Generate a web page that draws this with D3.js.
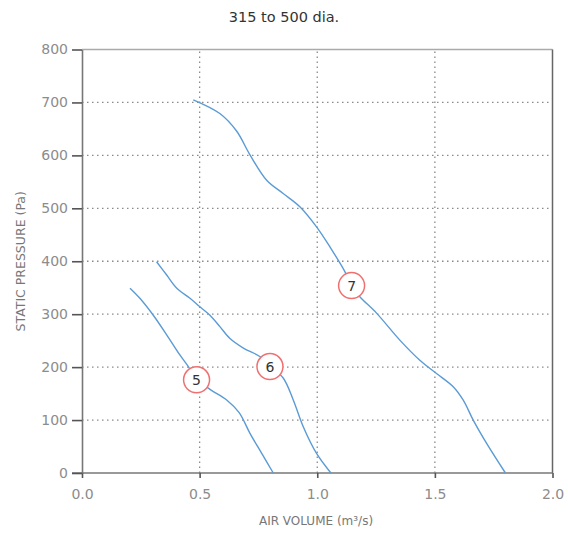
<!DOCTYPE html>
<html><head><meta charset="utf-8">
<script src="https://cdn.jsdelivr.net/npm/d3@7"></script>
<style>body{margin:0;background:#fff}svg{display:block}</style>
</head><body><div id="c"></div>
<script>
const title = "315 to 500 dia.";
const xLabel = "AIR VOLUME (m³/s)";
const yLabel = "STATIC PRESSURE (Pa)";
const xTicks = [0, 0.5, 1.0, 1.5, 2.0];
const yTicks = [0, 100, 200, 300, 400, 500, 600, 700, 800];
const curve5 = [[0.204,349],[0.246,330],[0.303,298],[0.360,261],[0.416,223],[0.452,201],[0.487,178],[0.544,158],[0.615,138],[0.668,114],[0.714,75],[0.764,37],[0.813,0]];
const curve6 = [[0.317,399],[0.360,374],[0.403,349],[0.459,330],[0.501,314],[0.544,298],[0.587,276],[0.629,254],[0.686,236],[0.756,220],[0.799,203],[0.856,179],[0.898,138],[0.941,87],[0.997,37],[1.058,0]];
const curve7 = [[0.473,705],[0.586,679],[0.657,646],[0.714,601],[0.785,553],[0.855,528],[0.926,503],[0.997,465],[1.054,427],[1.118,380],[1.146,353],[1.181,333],[1.252,302],[1.351,251],[1.436,213],[1.507,188],[1.578,163],[1.620,138],[1.663,100],[1.720,56],[1.800,0]];
const seriesNames = ["5","6","7"];
const labelPos = [[0.487,176],[0.799,201],[1.146,354]];

const W=568,H=534;
const m={l:82,r:15.5,t:49.5,b:61};
const svg=d3.select("#c").append("svg").attr("width",W).attr("height",H);
const x=d3.scaleLinear().domain([0,2]).range([m.l,W-m.r]);
const y=d3.scaleLinear().domain([0,800]).range([H-m.b,m.t]);
const font="'DejaVu Sans', sans-serif";

svg.append("text").attr("x",284).attr("y",22).attr("text-anchor","middle")
  .attr("font-family",font).attr("font-size",14.5).attr("fill","#333").text(title);

// grid
const g=svg.append("g");
g.selectAll("line.hy").data(yTicks.filter(d=>d>0&&d<800)).join("line")
  .attr("x1",x(0)).attr("x2",x(2)).attr("y1",d=>y(d)).attr("y2",d=>y(d))
  .attr("stroke","#8a8a8a").attr("stroke-width",1.3).attr("stroke-dasharray","1.5,3.5");
g.selectAll("line.vx").data(xTicks.filter(d=>d>0&&d<2)).join("line")
  .attr("y1",y(0)).attr("y2",y(800)).attr("x1",d=>x(d)).attr("x2",d=>x(d))
  .attr("stroke","#8a8a8a").attr("stroke-width",1.3).attr("stroke-dasharray","1.5,3.5");

// frame
svg.append("line").attr("x1",x(0)).attr("x2",x(2)).attr("y1",y(800)).attr("y2",y(800)).attr("stroke","#aaa").attr("stroke-width",1.5);
svg.append("line").attr("x1",x(2)).attr("x2",x(2)).attr("y1",y(800)).attr("y2",y(0)).attr("stroke","#666").attr("stroke-width",1.5);

// axes
const ax=svg.append("g").attr("transform",`translate(0,${y(0)})`)
  .call(d3.axisBottom(x).tickValues(xTicks).tickFormat(d3.format(".1f")).tickSizeInner(5).tickSizeOuter(0).tickPadding(11));
const ay=svg.append("g").attr("transform",`translate(${x(0)},0)`)
  .call(d3.axisLeft(y).tickValues(yTicks).tickSizeInner(10).tickSizeOuter(0).tickPadding(4));
[ax,ay].forEach(a=>{
  a.select(".domain").attr("stroke","#777").attr("stroke-width",1.6);
  a.selectAll(".tick line").attr("stroke","#555").attr("stroke-width",1.6);
  a.selectAll(".tick text").attr("font-family",font).attr("font-size",14).attr("fill","#8c8c8c");
});
ax.select(".domain").attr("d",`M${x(0)-10},0H${x(2)}`);

svg.append("text").attr("x",316).attr("y",525).attr("text-anchor","middle")
  .attr("font-family",font).attr("font-size",12).attr("fill","#777").text(xLabel);
svg.append("text").attr("transform",`translate(25,${y(400)}) rotate(-90)`).attr("text-anchor","middle")
  .attr("font-family",font).attr("font-size",12.5).attr("fill","#777").text(yLabel);

// curves
const line=d3.line().x(d=>x(d[0])).y(d=>y(d[1])).curve(d3.curveCatmullRom);
svg.selectAll("path.c").data([curve5,curve6,curve7]).join("path")
  .attr("d",line).attr("fill","none").attr("stroke","#5b9bd5").attr("stroke-width",1.4);

const lab=svg.selectAll("g.lab").data(seriesNames).join("g")
  .attr("transform",(d,i)=>`translate(${x(labelPos[i][0])},${y(labelPos[i][1])})`);
lab.append("circle").attr("r",13).attr("fill","#fff").attr("stroke","#f07070").attr("stroke-width",1.5);
lab.append("text").attr("text-anchor","middle").attr("dy","0.36em")
  .attr("font-family",font).attr("font-size",14).attr("fill","#333").text(d=>d);
</script></body></html>
